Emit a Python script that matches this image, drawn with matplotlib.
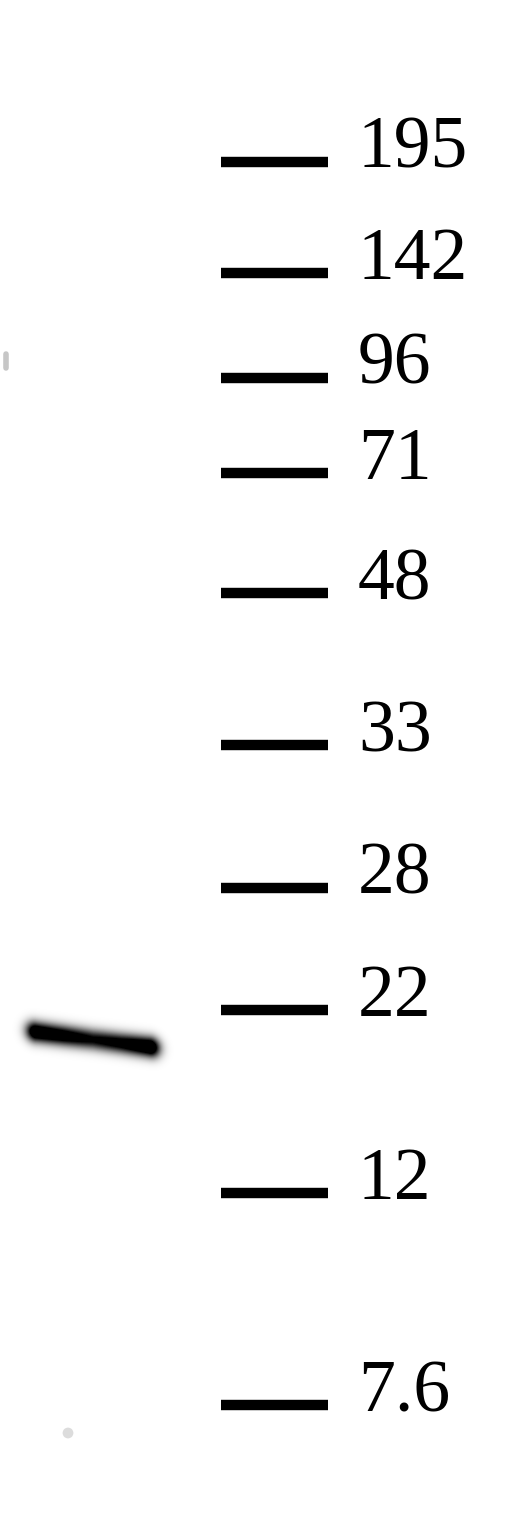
import matplotlib
matplotlib.use("Agg")
import matplotlib.pyplot as plt
import numpy as np

# marker ladder (kDa) and where each one ran on the membrane (pixels from top)
marker_kda = ["195", "142", "96", "71", "48", "33", "28", "22", "12", "7.6"]
marker_pos = [162, 273, 378, 473, 593, 745, 888, 1010, 1193, 1405]

# the sample lane band: start / end of the smear and relative strength along it
band_x = [36, 150]
band_y = [1032, 1047]
band_strength = [0.95, 0.85, 0.7, 0.8, 1.0]

W, H = 518, 1520
fig = plt.figure(figsize=(W / 100, H / 100), dpi=100)
ax = fig.add_axes([0, 0, 1, 1])
ax.set_xlim(0, W)
ax.set_ylim(H, 0)
ax.axis("off")

# ladder ticks + labels
for lab, y in zip(marker_kda, marker_pos):
    ax.plot([221, 328], [y, y], color="black", lw=7.5, solid_capstyle="butt")
    ax.text(358, y + 6, lab, fontsize=53, family="Liberation Serif",
            ha="left", va="baseline", color="black")

# band, built as a blurred slanted smear
gx = np.arange(0, 200)
gy = np.arange(990, 1090)
X, Y = np.meshgrid(gx + 0.5, gy + 0.5)
L = band_x[1] - band_x[0]
t = (X - band_x[0]) / L
yc = band_y[0] + t * (band_y[1] - band_y[0])
tc = np.clip(t, 0, 1)
strength = np.interp(tc, np.linspace(0, 1, len(band_strength)), band_strength)
d_out = np.clip(-t, 0, None) * L + np.clip(t - 1, 0, None) * L
along = np.exp(-d_out ** 2 / (2 * 7.0 ** 2))
dens = strength * along * np.exp(-(Y - yc) ** 2 / (2 * 7.0 ** 2))
dens = np.clip(dens * 1.5, 0, 1)
ax.imshow(dens, cmap="gray_r", vmin=0, vmax=1,
          extent=[gx[0], gx[-1] + 1, gy[-1] + 1, gy[0]],
          interpolation="bilinear", zorder=2)

# faint specks on the membrane
ax.plot([6, 6], [354, 368], color="#a0a0a0", lw=4, alpha=0.6,
        solid_capstyle="round")
ax.scatter([68], [1433], s=60, color="#dcdcdc", edgecolors="none")

fig.savefig("out.png", dpi=100, facecolor="white")
